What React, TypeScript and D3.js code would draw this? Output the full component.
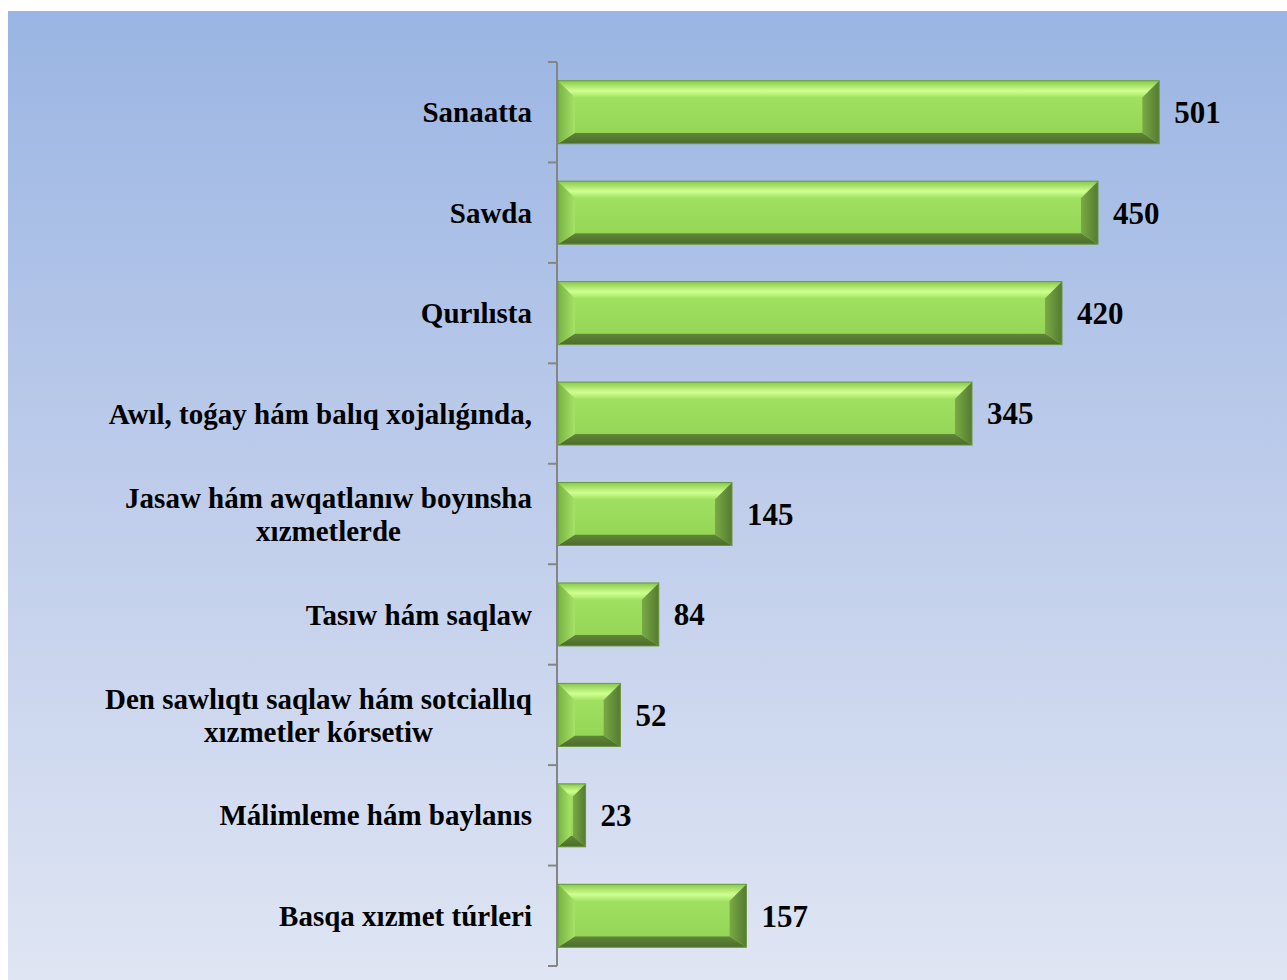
import React from "react";
import * as d3 from "d3";

const categories: string[][] = [
  ["Sanaatta"],
  ["Sawda"],
  ["Qurılısta"],
  ["Awıl, toǵay hám balıq xojalıǵında,"],
  ["Jasaw hám awqatlanıw boyınsha", "xızmetlerde"],
  ["Tasıw hám saqlaw"],
  ["Den sawlıqtı saqlaw hám sotciallıq", "xızmetler kórsetiw"],
  ["Málimleme hám baylanıs"],
  ["Basqa xızmet túrleri"],
];
const values: number[] = [501, 450, 420, 345, 145, 84, 52, 23, 157];

const W = 1287;
const H = 980;
const labelFont = "bold 29px 'Liberation Serif', 'Times New Roman', serif";

function measure(text: string, font: string): number {
  const c = document.createElement("canvas");
  const ctx = c.getContext("2d")!;
  ctx.font = font;
  return ctx.measureText(text).width;
}

export default function App() {
  const keys = categories.map((c) => c.join(" "));
  const y = d3.scaleBand<string>().domain(keys).range([62, 966]).paddingInner(0.373).paddingOuter(0.1865);
  const x = d3.scaleLinear().domain([0, 600]).range([558, 1278]);
  const step = y.step();
  const bh = y.bandwidth();
  const axisX = 557;
  const labelRight = 532;

  return (
    <svg width={W} height={H} style={{ position: "absolute", left: 0, top: 0 }}>
      <defs>
        <linearGradient id="bg" x1="0" y1="0" x2="0" y2="1">
          <stop offset="0" stopColor="#9ab5e3" />
          <stop offset="0.5" stopColor="#bfcdeb" />
          <stop offset="1" stopColor="#dfe5f3" />
        </linearGradient>
        <linearGradient id="topBev" x1="0" y1="0" x2="0" y2="1">
          <stop offset="0" stopColor="#88c94b" />
          <stop offset="0.6" stopColor="#cfff92" />
          <stop offset="0.8" stopColor="#b8f278" />
          <stop offset="1" stopColor="#a2e062" />
        </linearGradient>
        <linearGradient id="botBev" x1="0" y1="0" x2="0" y2="1">
          <stop offset="0" stopColor="#5f8738" />
          <stop offset="1" stopColor="#4d6c2c" />
        </linearGradient>
        <linearGradient id="leftBev" x1="0" y1="0" x2="1" y2="0">
          <stop offset="0" stopColor="#78b245" />
          <stop offset="1" stopColor="#a6e266" />
        </linearGradient>
        <linearGradient id="rightBev" x1="0" y1="0" x2="1" y2="0">
          <stop offset="0" stopColor="#79ab45" />
          <stop offset="1" stopColor="#557a31" />
        </linearGradient>
        <linearGradient id="face" x1="0" y1="0" x2="0" y2="1">
          <stop offset="0" stopColor="#a0e060" />
          <stop offset="1" stopColor="#96d656" />
        </linearGradient>
      </defs>
      <rect x={8} y={11} width={W - 8} height={H - 11} fill="url(#bg)" />

      {/* axis */}
      <line x1={axisX} x2={axisX} y1={62} y2={966} stroke="#858585" strokeWidth={2} />
      {d3.range(categories.length + 1).map((i) => {
        const ty = 62 + i * step;
        return <line key={"t" + i} x1={axisX - 9} x2={axisX} y1={ty} y2={ty} stroke="#858585" strokeWidth={2} />;
      })}

      {categories.map((lines, i) => {
        const key = keys[i];
        const v = values[i];
        const x0 = x(0);
        const x1 = x(v);
        const w = x1 - x0;
        const y0 = y(key)!;
        const y1 = y0 + bh;
        const b = Math.min(17, w / 2 - 1);
        const bt = Math.min(17, w / 2 - 1);
        const bb = Math.min(11, w / 2 - 1);
        const cy = y0 + bh / 2;
        const maxW = Math.max(...lines.map((l) => measure(l, labelFont)));
        const cx = labelRight - maxW / 2;
        const lh = 33;
        const pts = (a: number[][]) => a.map((p) => p.join(",")).join(" ");
        return (
          <g key={key}>
            <rect x={x0} y={y0} width={w} height={bh} fill="url(#face)" />
            <polygon points={pts([[x0, y0], [x1, y0], [x1 - b, y0 + bt], [x0 + b, y0 + bt]])} fill="url(#topBev)" />
            <polygon points={pts([[x0, y1], [x1, y1], [x1 - b, y1 - bb], [x0 + b, y1 - bb]])} fill="url(#botBev)" />
            <polygon points={pts([[x0, y0], [x0 + b, y0 + bt], [x0 + b, y1 - bb], [x0, y1]])} fill="url(#leftBev)" />
            <polygon points={pts([[x1, y0], [x1 - b, y0 + bt], [x1 - b, y1 - bb], [x1, y1]])} fill="url(#rightBev)" />
            <rect x={x0 + b} y={y0 + bt} width={Math.max(0, w - 2 * b)} height={bh - bt - bb} fill="url(#face)" />
            <rect x={x0} y={y0} width={w} height={bh} fill="none" stroke="#6a9640" strokeWidth={1} />
            <text
              x={x1 + 15}
              y={cy}
              dy="0.35em"
              fontFamily="'Liberation Serif', 'Times New Roman', serif"
              fontWeight="bold"
              fontSize={31}
              fill="#000"
            >
              {v}
            </text>
            <text
              fontFamily="'Liberation Serif', 'Times New Roman', serif"
              fontWeight="bold"
              fontSize={29}
              fill="#000"
              textAnchor="middle"
            >
              {lines.map((l, j) => (
                <tspan key={j} x={cx} y={cy + (j - (lines.length - 1) / 2) * lh} dy="0.35em">
                  {l}
                </tspan>
              ))}
            </text>
          </g>
        );
      })}
    </svg>
  );
}
